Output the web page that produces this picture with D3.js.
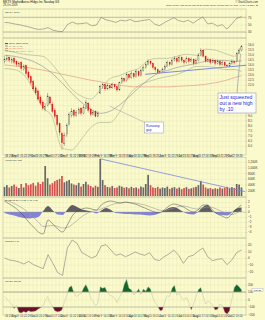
<!DOCTYPE html>
<html>
<head>
<meta charset="utf-8">
<script src="https://cdn.jsdelivr.net/npm/d3@7"></script>
<style>
body { margin: 0; background: #fafacd; }
svg { display: block; font-family: "Liberation Sans", Arial, sans-serif; }
</style>
</head>
<body>
<div id="chart"></div>
<script>
// daily candles (about every 2-3 sessions), MKTX
const opens = [14.3,14.5,14.7,14.3,14.6,14.3,13.9,14.2,13.5,13.9,
    13.2,12.8,12.3,11.7,11.4,10.8,10.3,9.6,10.0,10.8,
    10.1,9.5,9.0,8.2,7.2,6.2,7.1,8.1,9.0,9.5,
    9.0,9.2,9.7,9.2,9.7,10.2,9.6,9.1,9.4,8.9,
    11.2,11.8,12.0,11.6,11.9,11.7,12.0,11.8,11.5,12.2,
    12.6,12.4,13.0,12.7,13.1,12.8,13.3,12.9,13.4,13.7,
    14.0,14.3,14.1,13.7,13.5,13.2,13.3,13.5,13.8,14.2,
    14.0,14.4,14.6,14.3,14.7,14.4,14.2,14.6,14.3,14.5,
    14.1,14.4,14.9,15.4,14.8,14.3,14.5,14.2,14.4,14.1,
    14.3,14.0,14.2,13.9,13.85,14.1,14.3,14.3,15.1,15.4];
const highs = [14.8,14.9,14.8,14.7,14.7,14.4,14.3,14.3,14.0,14.0,
    13.4,12.9,12.5,11.9,11.6,11.0,10.5,10.2,11.2,10.9,
    10.3,9.7,9.1,8.3,7.4,7.3,8.2,9.3,9.7,9.6,
    9.5,9.8,9.8,10.0,10.5,10.3,9.7,9.5,9.5,9.4,
    12.0,12.2,12.1,12.1,12.0,12.2,12.1,11.9,12.3,12.8,
    12.7,13.2,13.1,13.3,13.2,13.5,13.4,13.6,13.9,14.2,
    14.5,14.4,14.2,13.8,13.6,13.45,13.7,14.0,14.4,14.3,
    14.6,14.8,14.7,14.9,14.8,14.5,14.8,14.7,14.7,14.6,
    14.6,15.1,15.6,15.5,14.9,14.7,14.6,14.6,14.5,14.5,
    14.4,14.4,14.3,14.0,14.2,14.5,14.4,15.2,15.6,15.9];
const lows = [14.1,14.3,14.2,14.1,14.0,13.8,13.8,13.4,13.4,12.9,
    12.5,12.0,11.4,11.0,10.4,10.0,9.5,9.4,9.9,10.0,
    9.2,8.7,7.9,7.0,5.6,6.0,6.9,8.0,8.8,8.8,
    8.9,9.1,9.0,9.1,9.6,9.3,8.9,9.0,8.8,8.8,
    11.1,11.6,11.4,11.5,11.5,11.6,11.6,11.3,11.4,12.1,
    12.2,12.3,12.5,12.6,12.6,12.7,12.8,12.8,13.3,13.6,
    13.9,13.9,13.5,13.3,13.15,13.15,13.25,13.4,13.7,13.8,
    13.9,14.3,14.1,14.2,14.2,14.0,14.1,14.1,14.2,13.9,
    14.0,14.3,14.8,14.7,14.2,14.2,14.0,14.1,13.9,14.0,
    13.8,13.9,13.8,13.75,13.8,14.0,14.0,14.2,15.0,15.3];
const closes = [14.5,14.6,14.4,14.5,14.2,14.0,14.1,13.6,13.8,13.1,
    12.7,12.2,11.6,11.2,10.6,10.2,9.7,9.9,10.9,10.2,
    9.4,8.9,8.1,7.3,6.3,7.0,8.0,9.1,9.4,9.0,
    9.3,9.6,9.2,9.8,10.3,9.5,9.1,9.3,8.9,9.2,
    11.8,12.0,11.6,11.9,11.7,12.0,11.8,11.5,12.2,12.6,
    12.4,13.0,12.7,13.1,12.8,13.3,12.9,13.4,13.7,14.0,
    14.3,14.1,13.7,13.5,13.2,13.35,13.5,13.8,14.2,14.0,
    14.4,14.6,14.3,14.7,14.4,14.2,14.6,14.3,14.5,14.1,
    14.4,14.9,15.4,14.8,14.3,14.5,14.2,14.4,14.1,14.3,
    14.0,14.2,13.9,13.85,14.1,14.3,14.2,15.1,15.4,15.8];
// volume, thousands
const volumes = [320,380,300,350,400,330,280,420,300,450,
    380,410,460,360,480,420,500,1050,620,400,
    450,520,560,600,700,480,520,560,440,400,
    380,460,330,420,500,400,350,300,360,320,
    1300,560,380,320,300,350,280,300,360,330,
    290,310,270,320,280,300,260,330,300,420,
    740,380,300,280,320,260,300,280,330,250,
    290,310,260,300,240,280,310,250,270,300,
    320,380,530,400,300,260,280,240,270,250,
    300,260,290,320,270,310,280,420,400,300];
// overlays sampled at these candle positions
const bandIdx = [0,4,8,12,16,20,24,28,32,36,40,44,48,52,56,60,64,68,72,76,80,84,88,92,96,99];
const bbUpper = [15.4,15.2,15.0,14.9,14.8,14.0,12.8,11.6,10.9,10.6,11.5,12.6,12.9,13.3,13.6,14.4,14.6,14.6,14.8,15.0,14.9,15.5,15.4,15.1,14.8,15.8];
const bbLower = [13.6,13.5,13.0,11.6,9.8,8.8,5.8,5.6,6.6,7.8,8.3,8.3,9.3,11.0,11.9,12.3,12.6,12.8,13.0,13.4,13.8,13.8,13.7,13.5,13.5,13.3];
const ma50 = [14.9,14.8,14.6,14.3,13.8,13.1,12.2,11.2,10.3,9.6,9.2,9.4,10.0,10.8,11.7,12.5,13.1,13.4,13.7,13.9,14.1,14.3,14.4,14.4,14.3,14.35];
const ma200 = [13.95,13.85,13.75,13.6,13.45,13.25,13.05,12.85,12.65,12.45,12.3,12.1,11.95,11.85,11.8,11.8,11.8,11.8,11.85,11.9,11.95,12.05,12.2,12.4,12.7,12.9];
const trendIdx = [58.8, 102];
const trendPrice = [13.03, 13.94];

// indicators, 50 samples across the same span
const rsi = [56,55,52,50,47,44,40,37,38,42,35,32,31,50,57,52,53,55,47,49,
    70,63,60,56,62,60,64,58,60,62,64,52,47,55,62,69,61,58,62,54,
    63,71,52,54,46,50,38,52,67,72];
const macd = [2.2,1.6,1.0,0.2,-0.8,-2.0,-3.0,-4.0,-4.4,-1.6,-2.4,-3.4,-4.0,-2.6,-0.8,0.2,0.6,0.8,0.6,0.4,
    1.4,2.0,2.2,2.0,1.8,2.0,1.8,1.6,1.2,0.8,0.4,0,-0.2,0.4,1.2,1.6,1.4,1.0,0.4,0,
    0.4,1.4,1.4,0.4,-0.4,-0.8,-1.2,-0.4,0.6,1.4];
const signal = [2.4,2.1,1.7,1.2,0.6,-0.2,-1.1,-2.0,-2.9,-2.8,-2.7,-2.9,-3.2,-3.1,-2.5,-1.7,-0.9,-0.3,0.1,0.3,
    0.6,1.0,1.4,1.7,1.8,1.9,1.9,1.8,1.6,1.4,1.1,0.7,0.4,0.3,0.5,0.8,1.1,1.2,1.0,0.7,
    0.6,0.8,1.0,0.9,0.5,0.1,-0.3,-0.5,-0.2,0.4];
const hist = [-0.2,-0.5,-0.7,-1.0,-1.2,-1.3,-1.2,-1.0,0.2,1.2,0.3,-0.5,-0.6,0.5,1.4,1.0,0.5,0.3,0.1,-0.3,
    0.3,0.8,0.4,-0.2,-0.3,-0.4,-0.4,-0.5,-0.5,-0.6,-0.7,-0.6,-0.2,0.3,0.8,1.0,0.6,0.0,-0.4,-0.5,
    0.0,1.0,1.4,0.2,-0.4,-0.6,-0.7,-0.1,0.7,0.9];
const roc = [0,-3,-4,-6,-9,-5,-10,-13,-16,5,-8,-22,-26,15,27,22,8,4,0,3,
    18,20,12,4,6,2,5,9,6,4,8,-2,-4,2,6,12,4,-8,2,4,
    10,15,2,-4,-2,-1,-10,-3,8,12];
// CCI, one value per candle
const cci = [40,10,-30,-60,-120,-80,-170,-180,-160,-175,
    -150,-165,-160,-155,-130,-110,-90,-20,40,-40,
    -90,-150,-165,-160,-140,-40,60,160,185,90,
    40,60,80,150,200,130,20,-30,-80,-50,
    170,150,165,90,60,40,20,-40,30,80,
    200,270,150,130,60,90,145,70,140,110,
    170,140,20,-40,-90,-150,-140,-20,50,40,
    150,190,60,80,20,-10,30,-40,-140,-60,
    40,130,160,40,-60,-20,-40,-80,-140,-130,
    -60,-80,-170,-195,-150,10,160,200,170,130];

const dateSpan = ["2008-08-15", "2009-10-28"];
// price labels hidden behind the note box are left out
const priceTicks = [6,6.5,7,7.5,8,8.5,9,12,12.5,13,13.5,14,14.5,15,15.5,16];
const priceGrid = d3.range(6, 16.01, 0.5);
const rsiTicks = [30, 50, 70];
const volTicks = [200, 400, 600, 800, 1000, 1200];
const macdTicks = [-4, -3, -2, -1, 0, 1, 2];
const rocTicks = [-20, -10, 0, 10, 20];
const cciTicks = [-200, -100, 0, 100, 200];

const width = 265, height = 320;
const plotLeft = 3, plotRight = 246;
const gridColor = "#e6e6b4";

const svg = d3.select("#chart").append("svg")
    .attr("width", width)
    .attr("height", height);

svg.append("rect").attr("width", width).attr("height", height).attr("fill", "#fafacd");

const xBar = d3.scaleLinear().domain([0, closes.length - 1]).range([4.5, 241.5]);
const xK = d3.scaleLinear().domain([0, rsi.length - 1]).range([4.5, 241.5]);
const xTime = d3.scaleTime()
    .domain(dateSpan.map(d => d3.timeParse("%Y-%m-%d")(d)))
    .range([4.5, 241.5]);
const weeks = xTime.ticks(d3.timeMonday.every(1));

const yRsi = d3.scaleLinear().domain([30, 70]).range([32, 17.3]);
const yPrice = d3.scaleLinear().domain([5.4, 16.4]).range([152, 40]);
const yVol = d3.scaleLinear().domain([0, 1400]).range([196, 156]);
const yMacd = d3.scaleLinear().domain([-5, 3]).range([237, 197]);
const yRoc = d3.scaleLinear().domain([-30, 30]).range([278, 238]);
const yCci = d3.scaleLinear().domain([-250, 250]).range([318.2, 280.8]);

let clipId = 0;
function drawPanel(top, bottom, y, ticks, fmt, grid) {
    const g = svg.append("g");
    g.append("g")
        .attr("transform", `translate(0,${bottom})`)
        .call(d3.axisBottom(xTime).tickValues(weeks).tickSize(-(bottom - top)).tickFormat(""))
        .call(a => a.select(".domain").remove())
        .call(a => a.selectAll("line").attr("stroke", gridColor).attr("stroke-width", 0.4));
    g.append("g")
        .attr("transform", `translate(${plotLeft},0)`)
        .call(d3.axisRight(y).tickValues(grid || ticks).tickSize(plotRight - plotLeft).tickFormat(""))
        .call(a => a.select(".domain").remove())
        .call(a => a.selectAll("line").attr("stroke", gridColor).attr("stroke-width", 0.4));
    g.append("g")
        .attr("transform", `translate(${plotRight},0)`)
        .call(d3.axisRight(y).tickValues(ticks).tickSize(1).tickPadding(1).tickFormat(fmt))
        .call(a => a.select(".domain").remove())
        .call(a => a.selectAll("text").attr("font-size", 3).attr("fill", "#333").attr("font-family", null))
        .call(a => a.selectAll("line").attr("stroke", "#777").attr("stroke-width", 0.3));
    g.append("rect")
        .attr("x", plotLeft).attr("y", top)
        .attr("width", plotRight - plotLeft).attr("height", bottom - top)
        .attr("fill", "none").attr("stroke", "#b4b49c").attr("stroke-width", 0.5);
    const id = "clip" + (clipId++);
    svg.append("clipPath").attr("id", id)
        .append("rect").attr("x", plotLeft).attr("y", top)
        .attr("width", plotRight - plotLeft).attr("height", bottom - top);
    return svg.append("g").attr("clip-path", `url(#${id})`);
}

function label(x, y, txt, size, color, anchor) {
    svg.append("text").attr("x", x).attr("y", y)
        .attr("font-size", size).attr("fill", color || "#222")
        .attr("text-anchor", anchor || "start").text(txt);
}

// header
label(3, 3.2, "MKTX MarketAxess Hldgs Inc  Nasdaq GS", 3, "#111");
label(3, 6.4, "28-Oct-2009", 2.6, "#333");
label(258, 3.2, "© StockCharts.com", 2.6, "#333", "end");
label(258, 6.4, "Open 15.37  High 15.85  Low 15.30  Close 15.80  Volume 314.0K  Chg +0.42 (+2.73%) ▲", 2.4, "#333", "end");

// RSI
const gR = drawPanel(9, 38, yRsi, rsiTicks, d3.format("d"));
[70, 30].forEach(v => {
    gR.append("line").attr("x1", plotLeft).attr("x2", plotRight)
        .attr("y1", yRsi(v)).attr("y2", yRsi(v))
        .attr("stroke", "#a8a898").attr("stroke-width", 0.7);
});
gR.append("path").datum(rsi)
    .attr("d", d3.line().x((d, i) => xK(i)).y(d => yRsi(d)))
    .attr("fill", "none").attr("stroke", "#7a7a7a").attr("stroke-width", 0.6);
label(5, 12.5, "RSI(14) 72.84", 2.4, "#333");

// price
const gP = drawPanel(38, 155, yPrice, priceTicks, d3.format(".1f"), priceGrid);
const bandLine = arr => d3.line().x((d, k) => xBar(bandIdx[k])).y(d => yPrice(d)).curve(d3.curveMonotoneX)(arr);
gP.append("path").attr("d", bandLine(ma200)).attr("fill", "none").attr("stroke", "#e8a888").attr("stroke-width", 0.8);
gP.append("path").attr("d", bandLine(bbUpper)).attr("fill", "none").attr("stroke", "#a4b08c").attr("stroke-width", 0.6);
gP.append("path").attr("d", bandLine(bbLower)).attr("fill", "none").attr("stroke", "#a4b08c").attr("stroke-width", 0.6);
gP.append("path").attr("d", bandLine(ma50)).attr("fill", "none").attr("stroke", "#8c8c96").attr("stroke-width", 0.6);

gP.append("line")
    .attr("x1", xBar(trendIdx[0])).attr("y1", yPrice(trendPrice[0]))
    .attr("x2", xBar(trendIdx[1])).attr("y2", yPrice(trendPrice[1]))
    .attr("stroke", "#6f7fe0").attr("stroke-width", 0.9);

const candleColor = (d, i) => d < opens[i] ? "#e01818" : "#3a3a3a";
const candles = gP.append("g");
candles.selectAll("line").data(closes).join("line")
    .attr("x1", (d, i) => xBar(i)).attr("x2", (d, i) => xBar(i))
    .attr("y1", (d, i) => yPrice(highs[i])).attr("y2", (d, i) => yPrice(lows[i]))
    .attr("stroke", candleColor)
    .attr("stroke-width", 0.35);
candles.selectAll("rect").data(closes).join("rect")
    .attr("x", (d, i) => xBar(i) - 0.55)
    .attr("width", 1.1)
    .attr("y", (d, i) => yPrice(Math.max(d, opens[i])))
    .attr("height", (d, i) => Math.max(0.4, Math.abs(yPrice(d) - yPrice(opens[i]))))
    .attr("fill", (d, i) => d < opens[i] ? "#e01818" : "#fafacd")
    .attr("stroke", candleColor)
    .attr("stroke-width", 0.3);

// price legend
const legend = [
    ["MKTX (Daily) 15.80", "#222"],
    ["MA(50) 14.35", "#8c8c96"],
    ["MA(200) 12.90", "#e07858"],
    ["BB(20,2.0) 13.30 - 15.80", "#8a9a70"]
];
legend.forEach((d, k) => {
    svg.append("line").attr("x1", 5).attr("x2", 8).attr("y1", 43.6 + k * 2.4).attr("y2", 43.6 + k * 2.4)
        .attr("stroke", d[1]).attr("stroke-width", 0.8);
    label(9, 44.4 + k * 2.4, d[0], 2.2, d[1]);
});

// callouts
svg.append("line")
    .attr("x1", xBar(44)).attr("y1", yPrice(9.9))
    .attr("x2", 146).attr("y2", 123)
    .attr("stroke", "#9a9aa8").attr("stroke-width", 0.5);
svg.append("rect").attr("x", 144.5).attr("y", 122).attr("width", 19).attr("height", 11)
    .attr("fill", "#fff").attr("stroke", "#9a9aa8").attr("stroke-width", 0.5);
label(146, 126.6, "Runaway", 3.3, "#2530c8");
label(146, 131, "gap", 3.3, "#2530c8");

svg.append("line")
    .attr("x1", xBar(98.6)).attr("y1", yPrice(15.05))
    .attr("x2", 237).attr("y2", 93)
    .attr("stroke", "#8a8a98").attr("stroke-width", 0.6);
svg.append("rect").attr("x", 218).attr("y", 93).attr("width", 38).attr("height", 20)
    .attr("fill", "#fff").attr("stroke", "#9a9aa8").attr("stroke-width", 0.6);
label(219.5, 99, "Just squeezed", 5.1, "#1e2ad0");
label(219.5, 105, "out a new high", 5.1, "#1e2ad0");
label(219.5, 111, "by .10", 5.1, "#1e2ad0");

// date strips
function dateAxis(yPos) {
    svg.append("g")
        .attr("transform", `translate(0,${yPos})`)
        .call(d3.axisBottom(xTime).tickValues(weeks).tickSize(0).tickPadding(0)
            .tickFormat(d => d.getDate() <= 7 ? (d.getMonth() === 0 ? "2009" : d3.timeFormat("%b")(d)) : d.getDate()))
        .call(a => a.select(".domain").remove())
        .call(a => a.selectAll("text").attr("font-size", 2.6).attr("fill", "#222").attr("dy", "0.7em")
            .attr("font-weight", d => d.getDate() <= 7 ? "bold" : null));
}
dateAxis(155.6);
dateAxis(315.5);

// volume
const gV = drawPanel(157.5, 197, yVol, volTicks, d => d3.format(",")(d) + "K");
gV.selectAll("rect").data(volumes).join("rect")
    .attr("x", (d, i) => xBar(i) - 0.85)
    .attr("width", 1.7)
    .attr("y", d => yVol(d))
    .attr("height", d => yVol(0) - yVol(d))
    .attr("fill", (d, i) => closes[i] < opens[i] ? "#d45050" : "#686868");
gV.append("line")
    .attr("x1", xBar(40)).attr("y1", yVol(1300))
    .attr("x2", xBar(100.5)).attr("y2", yVol(150))
    .attr("stroke", "#7c88e0").attr("stroke-width", 0.8);
label(5, 160.8, "Volume 314,033", 2.3, "#333");

// MACD
const gM = drawPanel(197, 238, yMacd, macdTicks, d3.format("d"));
svg.append("clipPath").attr("id", "macdUp").append("rect")
    .attr("x", plotLeft).attr("y", 197).attr("width", plotRight - plotLeft).attr("height", yMacd(0) - 197);
svg.append("clipPath").attr("id", "macdDown").append("rect")
    .attr("x", plotLeft).attr("y", yMacd(0)).attr("width", plotRight - plotLeft).attr("height", 238 - yMacd(0));
const histArea = d3.area().x((d, i) => xK(i)).y0(yMacd(0)).y1(d => yMacd(d)).curve(d3.curveMonotoneX);
gM.append("path").datum(hist).attr("d", histArea).attr("fill", "#5e5e62").attr("clip-path", "url(#macdUp)");
gM.append("path").datum(hist).attr("d", histArea).attr("fill", "#8482d4").attr("clip-path", "url(#macdDown)");
gM.append("line").attr("x1", plotLeft).attr("x2", plotRight).attr("y1", yMacd(0)).attr("y2", yMacd(0))
    .attr("stroke", "#9a9aa0").attr("stroke-width", 0.4);
gM.append("path").datum(signal)
    .attr("d", d3.line().x((d, i) => xK(i)).y(d => yMacd(d)).curve(d3.curveMonotoneX))
    .attr("fill", "none").attr("stroke", "#9a9a9a").attr("stroke-width", 0.6);
gM.append("path").datum(macd)
    .attr("d", d3.line().x((d, i) => xK(i)).y(d => yMacd(d)).curve(d3.curveMonotoneX))
    .attr("fill", "none").attr("stroke", "#444").attr("stroke-width", 0.5);
label(5, 200.6, "MACD(12,26,9) 0.58, 0.43, 0.15", 2.3, "#333");

// ROC
const gO = drawPanel(238, 278, yRoc, rocTicks, d3.format("d"));
gO.append("path").datum(roc)
    .attr("d", d3.line().x((d, i) => xK(i)).y(d => yRoc(d)))
    .attr("fill", "none").attr("stroke", "#7e7e7e").attr("stroke-width", 0.6);
label(5, 241.6, "ROC(20) 9.34", 2.3, "#333");

// CCI
const gC = drawPanel(278, 315, yCci, cciTicks, d3.format("d"));
svg.append("clipPath").attr("id", "cciUp").append("rect")
    .attr("x", plotLeft).attr("y", 278).attr("width", plotRight - plotLeft).attr("height", yCci(100) - 278);
svg.append("clipPath").attr("id", "cciDown").append("rect")
    .attr("x", plotLeft).attr("y", yCci(-100)).attr("width", plotRight - plotLeft).attr("height", 315 - yCci(-100));
gC.append("path").datum(cci)
    .attr("d", d3.area().x((d, i) => xBar(i)).y0(yCci(100)).y1(d => yCci(d)))
    .attr("fill", "#12682a").attr("clip-path", "url(#cciUp)");
gC.append("path").datum(cci)
    .attr("d", d3.area().x((d, i) => xBar(i)).y0(yCci(-100)).y1(d => yCci(d)))
    .attr("fill", "#6a1028").attr("clip-path", "url(#cciDown)");
gC.append("line").attr("x1", plotLeft).attr("x2", plotRight).attr("y1", yCci(100)).attr("y2", yCci(100))
    .attr("stroke", "#9a9a8a").attr("stroke-width", 0.8);
gC.append("line").attr("x1", plotLeft).attr("x2", plotRight).attr("y1", yCci(-100)).attr("y2", yCci(-100))
    .attr("stroke", "#a4a494").attr("stroke-width", 0.6);
gC.append("path").datum(cci)
    .attr("d", d3.line().x((d, i) => xBar(i)).y(d => yCci(d)))
    .attr("fill", "none").attr("stroke", "#b4b4a8").attr("stroke-width", 0.4);
label(5, 281.6, "CCI(20) 136.35", 2.3, "#333");
svg.append("rect").attr("x", 252).attr("y", yCci(130) - 1.6).attr("width", 11).attr("height", 3.2)
    .attr("fill", "#fff").attr("stroke", "#888").attr("stroke-width", 0.3);
label(257.5, yCci(130) + 0.9, "136.35", 2.4, "#222", "middle");
</script>
</body>
</html>
